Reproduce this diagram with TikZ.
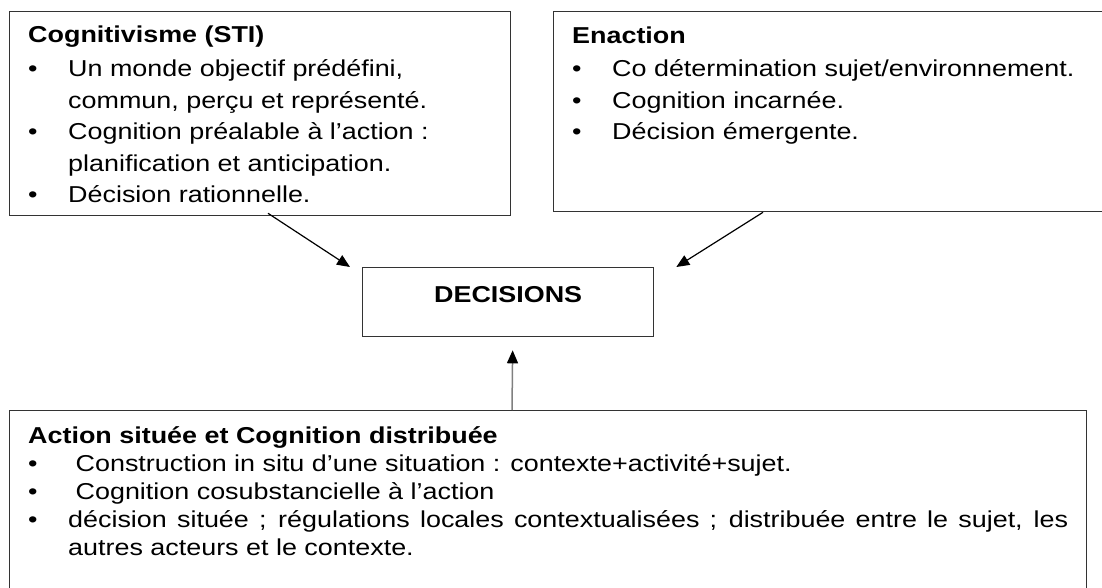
\documentclass[tikz,border=0pt]{standalone}
\usepackage{fontspec}
\setmainfont{Liberation Sans}[FakeStretch=1.17]
\usetikzlibrary{arrows.meta}
\newcommand{\bul}{\makebox[40pt][l]{\textbullet}}
\newcommand{\ind}{\hspace*{40pt}}

\begin{document}
\begin{tikzpicture}[x=1pt,y=-1pt,
 box/.style={draw=black!80,line width=1.3pt,inner sep=0pt,anchor=north west},
 txt/.style={inner sep=0pt,anchor=base west},
 link/.style={-{Triangle[length=13pt,width=11pt]},line width=1.2pt}]
 \useasboundingbox (0,0) rectangle (1102,588);
 \clip (0,0) rectangle (1102,588);
 %
 \node[box,minimum width=501pt,minimum height=204pt] (cogbox) at (9,11) {};
 \node[box,minimum width=560pt,minimum height=200pt] (enabox) at (553,11) {};
 \node[box,minimum width=1077pt,minimum height=200pt] (actbox) at (9,410) {};
 \node[box,minimum width=291pt,minimum height=69pt,
   font=\bfseries\fontsize{23}{23}\selectfont,text height=18pt,text depth=17pt] (decbox) at (362,267) {DECISIONS};
 %
 \node[txt] (cogtxt) at (28,43) {\parbox[t]{470pt}{\fontsize{23}{31.5}\selectfont
  \textbf{Cognitivisme (STI)}\\[2.5pt]
  \bul Un monde objectif prédéfini,\\
  \ind commun, perçu et représenté.\\
  \bul Cognition préalable à l’action :\\
  \ind planification et anticipation.\\
  \bul Décision rationnelle.}};
 \node[txt] (enatxt) at (572,44) {\parbox[t]{520pt}{\fontsize{23}{31.5}\selectfont
  \textbf{Enaction}\\[1.5pt]
  \bul Co détermination sujet/environnement.\\
  \bul Cognition incarnée.\\
  \bul Décision émergente.}};
 \node[txt] (acttxt) at (28,443) {\parbox[t]{1050pt}{\fontsize{23}{28}\selectfont
  \textbf{Action située et Cognition distribuée}\\
  \bul\ Construction in situ d’une situation : contexte+activité+sujet.\\
  \bul\ Cognition cosubstancielle à l’action\\
  \bul\makebox[1000pt][s]{décision située ; régulations locales contextualisées ; distribuée entre le sujet, les}\\
  \ind autres acteurs et le contexte.}};
 %
 \draw[link] ([xshift=259pt,yshift=3pt]cogbox.south west) -- ([xshift=-12pt]decbox.north west);
 \draw[link] ([xshift=210pt]enabox.south west) -- ([xshift=22pt]decbox.north east);
 \draw[line width=1.5pt,gray,-{Triangle[length=13pt,width=11pt,color=black]}] ([xshift=503pt]actbox.north west) -- ([xshift=4.5pt,yshift=-13pt]decbox.south);
\end{tikzpicture}
\end{document}
